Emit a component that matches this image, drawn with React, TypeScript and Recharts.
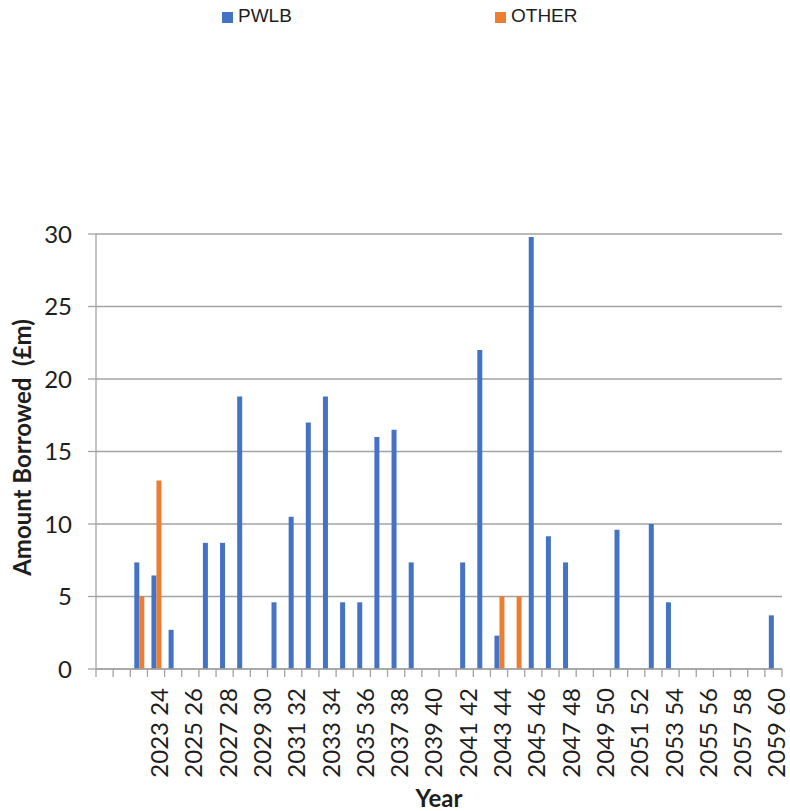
import React from "react";
import { BarChart, Bar, XAxis, YAxis, CartesianGrid, Legend, Label } from "recharts";

const years = [
  "2020 21", "2021 22", "2022 23", "2023 24", "2024 25", "2025 26", "2026 27", "2027 28",
  "2028 29", "2029 30", "2030 31", "2031 32", "2032 33", "2033 34", "2034 35", "2035 36",
  "2036 37", "2037 38", "2038 39", "2039 40", "2040 41", "2041 42", "2042 43", "2043 44",
  "2044 45", "2045 46", "2046 47", "2047 48", "2048 49", "2049 50", "2050 51", "2051 52",
  "2052 53", "2053 54", "2054 55", "2055 56", "2056 57", "2057 58", "2058 59", "2059 60",
];

const pwlb = [
  0, 0, 7.35, 6.45, 2.7, 0, 8.7, 8.7,
  18.8, 0, 4.6, 10.5, 17, 18.8, 4.6, 4.6,
  16, 16.5, 7.35, 0, 0, 7.35, 22, 2.3,
  0, 29.8, 9.15, 7.35, 0, 0, 9.6, 0,
  10, 4.6, 0, 0, 0, 0, 0, 3.7,
];

const other = [
  0, 0, 5, 13, 0, 0, 0, 0,
  0, 0, 0, 0, 0, 0, 0, 0,
  0, 0, 0, 0, 0, 0, 0, 5,
  5, 0, 0, 0, 0, 0, 0, 0,
  0, 0, 0, 0, 0, 0, 0, 0,
];

const yTicks = [0, 5, 10, 15, 20, 25, 30];

const data = years.map((year, i) => ({ year, PWLB: pwlb[i], OTHER: other[i] }));

const BLUE = "#4472c4";
const ORANGE = "#ed7d31";
const GRID = "#a3a3a3";
const TEXT = "#1e1e1e";
const FONT = "Lato, 'Open Sans', sans-serif";

const W = 790;
const H = 811;
const MARGIN = { top: 234, right: 8, bottom: 0, left: 0 };
const Y_AXIS_W = 96;
const X_AXIS_H = 142;
const BAND = (W - MARGIN.left - MARGIN.right - Y_AXIS_W) / years.length;

const legendItems = [
  { name: "PWLB", color: BLUE, left: 222 },
  { name: "OTHER", color: ORANGE, left: 495 },
];

function YearTick(props: any) {
  const { x, y, payload, index } = props;
  const showLabel = index % 2 === 1 && index >= 3;
  const tx = x + 12;
  const ty = y + 19;
  return (
    <g>
      <line x1={x - BAND / 2} y1={y} x2={x - BAND / 2} y2={y + 8} stroke={GRID} strokeWidth={1.3} />
      {index === years.length - 1 && (
        <line x1={x + BAND / 2} y1={y} x2={x + BAND / 2} y2={y + 8} stroke={GRID} strokeWidth={1.3} />
      )}
      {showLabel && (
        <text
          x={tx}
          y={ty}
          transform={`rotate(-90, ${tx}, ${ty})`}
          textAnchor="end"
          fontFamily={FONT}
          fontSize={24}
          fill={TEXT}
        >
          {payload.value}
        </text>
      )}
    </g>
  );
}

function LegendContent() {
  return (
    <div style={{ position: "relative", width: W, height: 40 }}>
      {legendItems.map((item) => (
        <div
          key={item.name}
          style={{
            position: "absolute",
            left: item.left,
            top: 5,
            display: "flex",
            alignItems: "center",
            fontFamily: "'Liberation Sans', Arial, sans-serif",
            fontSize: 19,
            lineHeight: "22px",
            color: TEXT,
          }}
        >
          <span style={{ display: "inline-block", width: 11, height: 11, background: item.color, marginRight: 5, marginTop: 2 }} />
          {item.name}
        </div>
      ))}
    </div>
  );
}

function YTitle(props: any) {
  const vb = props.viewBox;
  const x = vb.x + 31;
  const y = vb.y + vb.height / 2 - 4;
  return (
    <text
      x={x}
      y={y}
      transform={`rotate(-90, ${x}, ${y})`}
      textAnchor="middle"
      fontFamily={FONT}
      fontWeight="bold"
      fontSize={24}
      fill={TEXT}
      style={{ whiteSpace: "pre" }}
    >
      {"Amount Borrowed  (£m)"}
    </text>
  );
}

function XTitle(props: any) {
  const vb = props.viewBox;
  return (
    <text
      x={vb.x + vb.width / 2}
      y={vb.y + 138}
      textAnchor="middle"
      fontFamily={FONT}
      fontWeight="bold"
      fontSize={24}
      fill={TEXT}
    >
      Year
    </text>
  );
}

export default function App() {
  return (
    <div style={{ position: "absolute", left: 0, top: 0, background: "#fff" }}>
      <BarChart width={W} height={H} data={data} margin={MARGIN} barGap={0} barSize={5}>
        <CartesianGrid vertical={false} stroke={GRID} strokeWidth={1.3} />
        <XAxis
          dataKey="year"
          interval={0}
          height={X_AXIS_H}
          tickLine={false}
          tickSize={0}
          tickMargin={0}
          axisLine={{ stroke: GRID, strokeWidth: 1.3 }}
          tick={<YearTick />}
        >
          <Label content={<XTitle />} />
        </XAxis>
        <YAxis
          width={Y_AXIS_W}
          domain={[0, 30]}
          ticks={yTicks}
          interval={0}
          tickSize={8}
          tickMargin={16}
          axisLine={{ stroke: GRID, strokeWidth: 1.3 }}
          tickLine={{ stroke: GRID, strokeWidth: 1.3 }}
          tick={{ fontFamily: FONT, fontSize: 24, fill: TEXT }}
        >
          <Label content={<YTitle />} />
        </YAxis>
        <Legend
          verticalAlign="middle"
          align="center"
          layout="horizontal"
          wrapperStyle={{ top: 0, left: 0, width: W, height: 40 }}
          content={<LegendContent />}
        />
        <Bar dataKey="PWLB" name="PWLB" fill={BLUE} isAnimationActive={false} />
        <Bar dataKey="OTHER" name="OTHER" fill={ORANGE} isAnimationActive={false} />
      </BarChart>
    </div>
  );
}
